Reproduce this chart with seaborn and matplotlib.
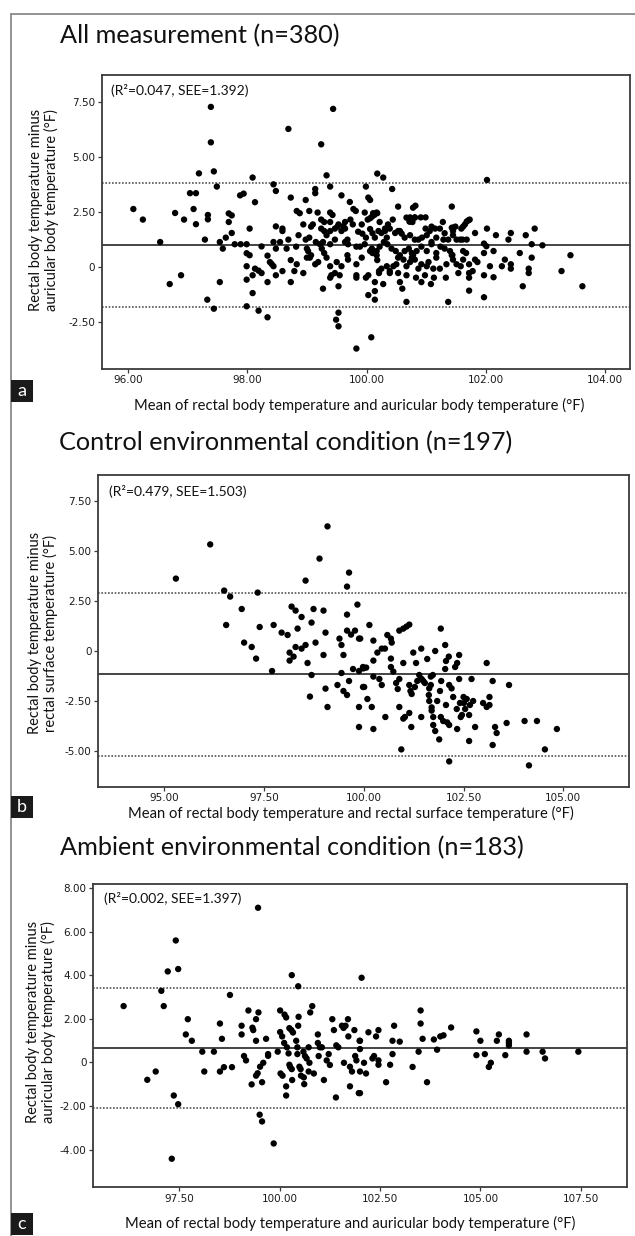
import matplotlib
matplotlib.use("Agg")
import matplotlib.pyplot as plt
import seaborn as sns
import pandas as pd
from matplotlib.lines import Line2D
from matplotlib.patches import Rectangle

sns.set_theme(style="white")
plt.rcParams['font.family'] = ['Lato', 'DejaVu Sans']

# ---------------- data ----------------
# Panel a: All measurement (n=380)
a_mean = [96.09, 96.25, 96.54, 96.70, 96.89, 96.79, 96.94, 97.04, 97.14, 97.10, 97.19, 97.14, 97.29, 97.34, 97.34, 97.33,
          97.39, 97.39, 97.44, 97.49, 97.44, 97.54, 97.59, 97.54, 97.64, 97.69, 97.69, 97.74, 97.74, 97.79, 97.89, 97.88,
          97.94, 97.99, 97.99, 98.04, 98.04, 98.09, 98.13, 97.99, 97.99, 98.09, 98.09, 97.99, 98.13, 98.19, 98.24, 98.19,
          98.24, 98.34, 98.38, 98.41, 98.44, 98.48, 98.34, 98.34, 98.44, 98.48, 98.48, 98.44, 98.48,
          98.69, 99.44, 99.24, 99.33, 99.39, 99.14, 99.14, 98.73, 98.98, 99.58, 99.72, 99.99, 100.03, 100.06, 100.18,
          100.28, 100.43, 100.53, 100.78, 100.82, 100.73, 100.73, 100.81, 100.91, 100.99, 101.43, 101.45,
          98.83, 98.88, 99.04, 99.18, 99.39, 99.43, 99.78, 99.82, 99.97, 100.11, 100.17,
          98.94, 99.07, 99.10, 99.24, 99.29, 99.39, 99.53, 99.61, 99.64, 99.73, 99.77, 99.92, 100.02, 100.06, 100.09,
          100.13, 100.18, 100.22, 100.31, 100.36, 100.44, 100.56, 100.67, 100.72, 100.77, 100.81, 100.99, 101.06, 101.09,
          101.15, 101.23, 101.28, 101.31, 101.43, 101.45, 101.49,
          98.59, 98.59, 98.86, 99.04, 98.98, 99.24, 99.29, 99.33, 99.39, 99.47, 99.51, 99.58, 99.64, 99.68, 99.86, 99.93,
          99.99, 100.06, 100.10, 100.14, 100.20, 100.25, 100.31, 100.34, 100.39, 100.48, 100.53, 100.59, 100.64, 100.73,
          100.81, 100.87, 100.93, 101.01, 101.09, 101.17, 101.29, 101.37, 101.45, 101.51,
          98.55, 98.69, 98.66, 98.82, 99.00, 99.02, 99.07, 99.15, 99.22, 99.25, 99.27, 99.39, 99.47, 99.64, 99.69, 99.83,
          99.89, 99.97, 100.09, 100.10, 100.17, 100.22, 100.29, 100.35, 100.42, 100.49, 100.56, 100.64, 100.71, 100.76,
          100.78, 100.84, 100.92, 101.01, 101.09, 101.17, 101.24, 101.31, 101.40, 101.43,
          98.73, 98.83, 99.00, 99.05, 99.14, 99.19, 99.29, 99.33, 99.39, 99.50, 99.58, 99.68, 99.69, 99.83, 99.92, 100.06,
          100.17, 100.18, 100.21, 100.25, 100.34, 100.39, 100.45, 100.50, 100.53, 100.62, 100.67, 100.73, 100.76, 100.81,
          100.87, 100.92, 101.01, 101.04, 101.12, 101.17, 101.23, 101.34, 101.45, 101.51, 101.54, 101.44,
          98.59, 98.79, 98.94, 98.73, 99.39, 99.41, 99.47, 99.55, 99.83, 99.83, 99.99, 100.03, 100.14, 100.21, 100.28,
          100.39, 100.53, 100.56, 100.60, 100.67, 100.83, 100.92, 100.98, 101.08, 101.13, 101.33, 99.27, 99.53,
          100.03, 100.14, 100.14, 100.67, 101.37, 99.53, 99.49, 99.53, 100.08, 99.83,
          102.02, 101.59, 101.62, 101.65, 101.68, 101.71, 101.73, 101.57, 101.61, 101.68, 101.82, 102.02, 102.17, 102.42,
          102.38, 102.67, 102.82, 102.77, 102.95, 101.97, 102.01, 101.62, 101.67, 101.97, 102.13, 102.57, 102.77, 103.42,
          101.62, 101.82, 101.86, 102.32, 101.58, 101.72, 102.07, 102.27, 102.42, 102.42, 101.78, 101.72, 101.72, 101.97,
          102.13, 102.72, 102.72, 103.27, 101.72, 101.97, 102.62, 103.62]
a_diff = [2.62, 2.14, 1.12, -0.79, -0.39, 2.44, 2.14, 3.34, 3.34, 2.62, 4.24, 1.93, 1.23, 2.35, 2.15, -1.50,
          7.26, 5.65, 4.33, 3.64, -1.91, 1.12, 0.82, -0.70, 1.32, 2.03, 2.42, 2.33, 1.53, 1.02, 1.02, 3.24,
          3.32, 1.02, 0.61, 0.52, 1.73, 4.05, 2.93, 0.02, -0.59, -0.39, -1.20, -1.80, -0.09, -0.18, -0.29, -2.00,
          0.92, 0.50, 0.21, 0.12, 0.02, -0.39, -0.70, -2.30, 3.74, 3.44, 1.83, 1.12, 0.82,
          6.26, 7.17, 5.56, 4.15, 3.64, 3.53, 3.34, 3.14, 3.03, 3.24, 2.94, 3.64, 3.14, 3.03, 4.23,
          4.05, 3.53, 2.73, 2.68, 2.77, 2.24, 2.05, 2.24, 2.24, 2.24, 2.73, 1.77,
          2.53, 2.43, 2.53, 2.46, 2.46, 2.35, 2.62, 2.53, 2.46, 2.43, 2.46,
          1.92, 1.82, 1.92, 2.14, 2.03, 2.03, 1.92, 1.84, 2.03, 2.14, 1.92, 1.92, 2.14, 2.20, 2.27,
          2.35, 2.43, 2.03, 1.73, 1.92, 2.14, 1.62, 2.23, 2.05, 2.03, 2.23, 1.73, 1.62, 1.82,
          1.73, 1.73, 2.03, 1.52, 1.77, 1.62, 1.82,
          1.73, 1.62, 1.43, 1.32, 1.23, 1.73, 1.62, 1.43, 1.62, 1.73, 1.81, 1.62, 1.73, 1.23, 1.59, 1.50,
          1.32, 1.71, 1.52, 1.32, 1.62, 1.53, 1.62, 1.32, 1.73, 1.53, 1.62, 1.50, 1.32, 1.43,
          1.23, 1.23, 1.32, 1.43, 1.12, 1.32, 1.23, 1.23, 1.43, 1.23,
          1.12, 1.23, 0.82, 0.91, 0.82, 0.71, 0.52, 1.12, 1.02, 0.82, 1.12, 1.02, 1.23, 1.12, 1.02, 0.91,
          0.91, 1.02, 0.82, 0.62, 0.71, 0.91, 1.12, 1.02, 0.82, 0.71, 0.52, 0.71, 0.82, 0.62,
          0.52, 0.71, 0.91, 0.71, 1.02, 0.62, 0.91, 0.82, 0.71, 0.52,
          0.30, 0.11, 0.41, 0.41, 0.11, 0.21, 0.62, 0.41, 0.02, 0.21, 0.02, 0.52, 0.32, 0.11, 0.41, 0.71,
          0.52, 0.30, -0.20, -0.09, 0.02, -0.20, 0.02, 0.11, 0.41, 0.32, 0.02, 0.21, 0.41, 0.32,
          -0.09, 0.11, 0.02, 0.21, -0.09, 0.41, -0.09, 0.11, 0.32, 0.11, -0.29, 0.53,
          -0.20, -0.20, -0.29, -0.70, -0.50, -0.39, -0.29, -0.39, -0.39, -0.50, -0.50, -0.39, -0.70, -0.29, -0.79,
          -0.29, -0.29, -0.70, -1.00, -0.39, -0.50, -0.70, -0.39, -0.79, -0.50, -0.50, -1.00, -0.89,
          -1.29, -1.11, -1.50, -1.60, -1.60, -2.09, -2.41, -2.71, -3.21, -3.72,
          3.94, 1.73, 1.82, 1.92, 2.05, 2.11, 2.14, 1.23, 1.23, 1.23, 1.53, 1.73, 1.43, 1.53,
          1.23, 1.43, 1.73, 1.02, 0.97, 1.05, 0.93, 0.71, 0.62, 0.62, 0.71, 0.62, 0.41, 0.52,
          0.32, 0.32, 0.21, 0.32, 0.02, 0.11, 0.02, 0.02, 0.11, -0.09, -0.20, -0.29, -0.50, -0.39,
          -0.48, -0.09, -0.29, -0.20, -1.09, -1.39, -0.89, -0.89]
a_lines = [0.98, 3.78, -1.82]   # mean difference, upper / lower limits of agreement

# Panel b: Control environmental condition (n=197)
b_mean = [95.29, 96.15, 96.50, 96.65, 96.55, 96.94, 97.00, 97.19, 97.30, 97.34, 97.39, 97.70, 97.74, 97.94, 98.09,
          98.19, 98.29, 98.44, 98.14, 98.14, 98.24, 98.29, 98.34, 98.44, 98.54, 98.54, 98.59, 98.69, 98.69, 98.74,
          98.79, 98.65, 98.89, 98.99, 98.99, 99.04, 99.04, 99.09, 99.09, 99.34, 99.39, 99.44, 99.44, 99.49, 99.49,
          99.58, 99.58, 99.58, 99.63, 99.58, 99.68, 99.73, 99.63, 99.84, 99.78, 99.88, 99.88, 99.88, 99.88, 99.98, 99.98,
          99.91, 99.99, 100.06, 100.14, 100.24, 100.24, 100.34, 100.45, 100.53, 100.24, 100.01, 100.09, 100.20,
          100.24, 100.39, 100.45, 100.59, 100.68, 100.70, 100.68, 100.68, 100.74, 100.81, 100.85, 100.89, 100.89,
          100.99, 101.07, 101.14, 100.99, 100.89, 100.54, 100.94, 100.99, 101.03, 101.14, 101.14, 101.17, 101.20,
          101.19, 101.24, 101.31, 101.28, 101.34, 101.39, 101.44, 101.44, 101.45, 101.49, 101.53, 101.59, 101.63,
          101.64, 101.68, 101.68, 101.73, 101.64, 101.70, 101.70, 101.74, 101.74, 101.79, 101.79, 101.84, 101.89,
          101.93, 101.91, 101.94, 101.93, 101.99, 102.04, 102.04, 102.06, 102.06, 102.09, 102.14, 102.13, 102.14,
          102.14, 102.20, 102.24, 102.29, 102.34, 102.33, 102.34, 102.39, 102.39, 102.41, 102.43, 102.46, 102.50,
          102.51, 102.54, 102.58, 102.64, 102.66, 102.70, 102.74, 102.79, 102.64, 102.99, 103.08, 103.15, 103.15,
          103.08, 103.23, 103.23, 103.29, 103.33, 103.58, 103.64, 104.03, 104.34, 104.14, 104.54, 104.84]
b_diff = [3.62, 5.33, 3.02, 2.72, 1.30, 2.10, 0.42, 0.20, -0.38, 2.92, 1.20, -1.00, 1.30, 0.92, 0.80,
          2.22, 2.02, 1.70, -0.08, -0.48, -0.28, 0.20, 1.12, 0.12, 0.30, 3.52, -0.60, 1.42, -1.20, 2.10,
          0.42, -2.28, 4.62, 2.02, -0.20, 0.92, -1.88, 6.23, -2.80, -1.70, 0.62, 0.30, -1.10, -0.20, -2.00,
          -2.20, 1.82, 3.22, 3.92, 1.02, 0.82, -0.90, -1.50, 2.32, 1.02, 0.62, -2.80, -3.80, -1.00, -0.80, -1.80,
          0.62, -0.87, -0.83, 1.30, 0.52, -0.48, -0.08, 0.12, 0.12, -1.28, -1.80, -2.40, -2.80,
          -3.90, -1.40, -1.70, 0.80, 0.62, 0.42, -0.38, -0.80, -1.03, -1.60, -1.90, -1.40, 1.02,
          1.12, 1.22, 1.32, -0.60, -2.80, -3.30, -4.92, -3.38, -3.30, -3.10, -1.70, -2.00, -2.15,
          -3.80, -0.08, -0.60, -1.80, -1.50, -1.20, 0.12, -3.30, -1.40, -1.50, -1.60, -0.40, -2.20,
          -1.87, -1.70, -1.28, -1.20, -2.50, -2.82, -2.98, -3.30, -3.70, -4.00, 0.00, -2.50, -4.42,
          1.12, -2.00, -1.50, -3.30, -3.50, 0.30, -0.90, -0.50, -2.70, -3.57, -3.70, -0.28, -1.70,
          -5.52, -1.87, -2.30, -0.80, -0.60, -2.90, -3.90, -0.20, -1.40, -2.60, -3.30, -3.20, -2.30,
          -2.60, -2.90, -2.40, -3.20, -2.70, -1.40, -2.50, -3.80, -4.50, -2.60, -2.80, -2.70, -2.30,
          -0.60, -1.50, -4.70, -3.80, -4.10, -3.60, -1.70, -3.50, -3.50, -5.72, -4.92, -3.90]
b_lines = [-1.17, 2.92, -5.27]

# Panel c: Ambient environmental condition (n=183)
c_mean = [96.11, 96.70, 96.91, 97.05, 97.11, 97.21, 97.41, 97.47, 97.36, 97.47, 97.31, 97.71, 97.66, 97.81, 98.07,
          98.12, 98.36, 98.51, 98.56, 98.51, 98.61, 98.81, 98.76, 99.05, 99.05, 99.11, 99.16, 99.22, 99.32, 99.34,
          99.41, 99.41, 99.47, 99.30, 99.41, 99.45, 99.51, 99.56, 99.59, 99.66, 99.71, 99.71, 99.50, 99.56, 99.46,
          99.85, 99.95, 100.01, 100.01, 100.06, 100.12, 100.16, 100.11, 100.18, 100.22, 100.24, 100.29, 100.33,
          100.02, 100.07, 100.16, 100.16, 100.24, 100.26, 100.30, 100.31, 100.41, 100.44, 100.47, 100.46, 100.30,
          100.46, 100.44, 100.49, 100.52, 100.53, 100.59, 100.63, 100.67, 100.60, 100.61, 100.72, 100.76, 100.81,
          100.74, 100.72, 100.85, 100.95, 100.95, 101.00, 100.97, 101.05, 101.10, 101.17, 101.22, 101.25, 101.31,
          101.35, 101.41, 101.46, 101.40, 101.55, 101.59, 101.64, 101.70, 101.71, 101.60, 101.75, 101.80, 101.75,
          101.86, 101.88, 101.91, 101.97, 101.99,
          102.04, 102.00, 102.00, 102.00, 102.15, 102.10, 102.00, 102.21, 102.40, 102.46, 102.35, 102.46, 102.46,
          102.31, 102.65, 102.75, 102.81, 102.81, 102.85, 102.99, 103.31, 103.46, 103.51, 103.51, 103.56, 103.67,
          103.84, 103.92, 104.00, 104.08, 104.27, 104.90, 104.90, 105.00, 105.11, 105.21, 105.26, 105.41, 105.46,
          105.62, 105.71, 105.71, 105.71, 106.15, 106.15, 106.55, 106.61, 107.44]
c_diff = [2.58, -0.80, -0.42, 3.28, 2.58, 4.17, 5.59, 4.28, -1.52, -1.92, -4.42, 1.98, 1.28, 0.99, 0.49,
          -0.42, 0.49, 1.78, 1.08, -0.42, -0.22, -0.22, 3.09, 1.68, 1.28, 0.29, 0.09, 2.38, 1.59, 1.48,
          0.99, 1.98, 2.29, -1.01, -0.61, -0.50, -0.20, -0.91, -0.02, 1.08, 0.30, 0.38, -2.40, -2.71, 7.09,
          -3.72, 0.49, 2.38, 1.39, 1.19, 2.19, 2.06, 0.89, 0.69, 0.41, 1.57, 1.48, 1.37,
          -0.51, -0.61, -1.10, -1.52, -0.11, -0.21, -0.31, -0.81, 0.99, 0.69, 2.09, 1.68, 4.00,
          3.49, 0.38, -0.20, -0.31, -0.61, 0.49, 0.29, 0.18, -0.69, -1.00, 0.69, 2.29, 2.58,
          -0.02, -0.42, -0.51, 1.28, 0.89, 0.69, 0.29, 0.69, -0.81, 0.09, 0.38, -0.12, 1.98,
          1.48, 0.78, 0.69, -1.61, 1.68, 1.58, 1.68, 1.98, 1.19, -0.02, -0.20, -0.42, -1.10,
          1.48, 0.29, 0.09, -1.41, 0.99,
          3.88, 0.99, 0.61, -0.42, -0.51, -0.02, -1.41, 1.38, 1.19, 1.48, 0.29, 0.09, -0.11,
          0.18, -0.91, -0.11, 0.38, 0.99, 1.68, 0.95, -0.21, 0.49, 2.38, 1.78, 1.08, -0.91,
          1.05, 0.58, 1.19, 1.24, 1.60, 1.42, 0.33, 0.99, 0.38, -0.21, -0.02, 0.99, 1.28,
          0.33, 0.99, 0.89, 0.78, 1.28, 0.49, 0.49, 0.18, 0.49]
c_lines = [0.66, 3.39, -2.09]

titles = ["All measurement (n=380)", "Control environmental condition (n=197)",
          "Ambient environmental condition (n=183)"]
annotations = ["(R\u00b2=0.047, SEE=1.392)", "(R\u00b2=0.479, SEE=1.503)", "(R\u00b2=0.002, SEE=1.397)"]
ylabels = ["Rectal body temperature minus\nauricular body temperature (\u00b0F)",
           "Rectal body temperature minus\nrectal surface temperature (\u00b0F)",
           "Rectal body temperature minus\nauricular body temperature (\u00b0F)"]
xlabels = ["Mean of rectal body temperature and auricular body temperature (\u00b0F)",
           "Mean of rectal body temperature and rectal surface temperature (\u00b0F)",
           "Mean of rectal body temperature and auricular body temperature (\u00b0F)"]
panel_letters = ["a", "b", "c"]
xticks = [[96, 98, 100, 102, 104], [95, 97.5, 100, 102.5, 105], [97.5, 100, 102.5, 105, 107.5]]
yticks = [[-2.5, 0, 2.5, 5, 7.5], [-5, -2.5, 0, 2.5, 5, 7.5], [-4, -2, 0, 2, 4, 6, 8]]

# ---------------- layout ----------------
W, H = 635, 1236
fig = plt.figure(figsize=(W / 100, H / 100), dpi=100)
fig.patch.set_facecolor("white")

def fx(px):
    return px / W

def fy(py):
    return 1 - py / H

# axes boxes in pixel units (left, top, right, bottom)
boxes = [(101.5, 75, 629.5, 369), (97.7, 475, 629.5, 787), (92.7, 884, 627.3, 1187.3)]
xlims = [(95.556, 104.41), (93.33, 106.66), (95.34, 108.66)]
ylims = [(-4.65, 8.71), (-6.8, 8.8), (-5.73, 8.18)]
title_pos = [(60, 43), (59, 450), (60, 855)]
annot_pos = [(111, 95), (109, 495.7), (104, 903.3)]
ylabel_pos = [(44, 210), (43, 633), (41, 1022)]
xlabel_pos = [(359, 405), (351, 813), (350, 1223)]
letter_box = [(11, 380), (11, 796), (11, 1213)]

datasets = [(a_mean, a_diff, a_lines), (b_mean, b_diff, b_lines), (c_mean, c_diff, c_lines)]
frame_col = "#3a3a3a"

def fmt(v):
    return "0" if v == 0 else f"{v:.2f}"

for i, (mx, dy, lines) in enumerate(datasets):
    l, t, r, b = boxes[i]
    ax = fig.add_axes([fx(l), fy(b), (r - l) / W, (b - t) / H])
    df = pd.DataFrame({"mean": mx, "diff": dy})
    sns.scatterplot(data=df, x="mean", y="diff", ax=ax, color="black", s=21,
                    edgecolor="none", linewidth=0, legend=False, zorder=3)
    ax.axhline(lines[0], color="#444444", lw=1.4, zorder=2)
    ax.axhline(lines[1], color="#555555", lw=1.2, ls=(0, (1, 1)), zorder=2)
    ax.axhline(lines[2], color="#555555", lw=1.2, ls=(0, (1, 1)), zorder=2)
    ax.set_xlim(*xlims[i])
    ax.set_ylim(*ylims[i])
    ax.set_xticks(xticks[i])
    ax.set_yticks(yticks[i])
    ax.set_xticklabels([fmt(v) for v in xticks[i]], fontfamily=["Liberation Sans Narrow", "DejaVu Sans"],
                       fontsize=7.5, color="#1a1a1a")
    ax.set_yticklabels([fmt(v) for v in yticks[i]], fontfamily=["Liberation Sans Narrow", "DejaVu Sans"],
                       fontsize=7.5, color="#1a1a1a")
    ax.tick_params(axis="both", which="major", direction="out", length=3, width=0.9,
                   color=frame_col, pad=1.5, bottom=True, left=True)
    for sp in ax.spines.values():
        sp.set_color(frame_col)
        sp.set_linewidth(1.3)
    ax.set_xlabel("")
    ax.set_ylabel("")
    ax.grid(False)

    fig.text(fx(title_pos[i][0]), fy(title_pos[i][1]), titles[i], fontsize=18.2,
             ha="left", va="baseline", color="#111111")
    fig.text(fx(annot_pos[i][0]), fy(annot_pos[i][1]), annotations[i], fontsize=10,
             ha="left", va="baseline", color="#111111")
    fig.text(fx(ylabel_pos[i][0]), fy(ylabel_pos[i][1]), ylabels[i], fontsize=10.5, rotation=90,
             ha="center", va="center", linespacing=1.1, color="#111111")
    fig.text(fx(xlabel_pos[i][0]), fy(xlabel_pos[i][1]), xlabels[i], fontsize=10.6,
             ha="center", va="center", color="#111111")
    bx, by = letter_box[i]
    fig.patches.append(Rectangle((fx(bx), fy(by + 22)), 22 / W, 22 / H, transform=fig.transFigure,
                                 facecolor="#1a1a1a", edgecolor="none", zorder=5))
    fig.text(fx(bx + 11), fy(by + 11), panel_letters[i], fontsize=13, color="white",
             ha="center", va="center", zorder=6)

# outer frame lines (top and left)
fig.add_artist(Line2D([fx(11), 1], [fy(14), fy(14)], color="#8a8a8a", lw=1.3, transform=fig.transFigure))
fig.add_artist(Line2D([fx(11), fx(11)], [fy(14), 0], color="#8a8a8a", lw=1.3, transform=fig.transFigure))

fig.savefig("out.png", dpi=100, facecolor="white")
